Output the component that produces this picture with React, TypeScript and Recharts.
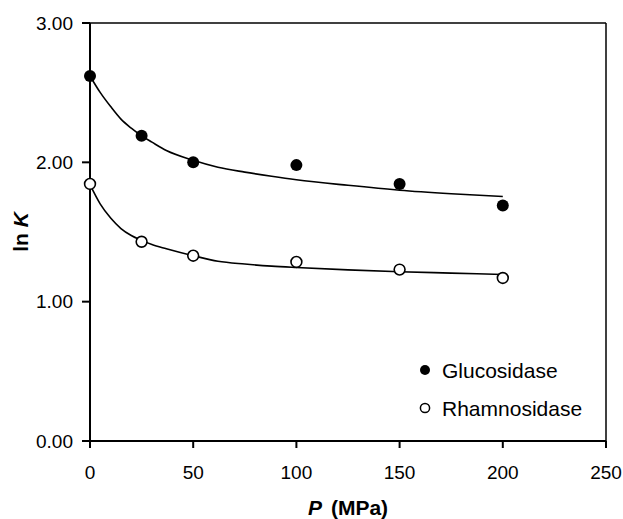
import {
  ComposedChart,
  Line,
  Scatter,
  XAxis,
  YAxis,
  ReferenceLine,
  Label,
} from "recharts";

// measured ln K values at each pressure (MPa)
const pressures = [0, 25, 50, 100, 150, 200];
const glucosidase = [2.62, 2.19, 2.0, 1.98, 1.845, 1.69];
const rhamnosidase = [1.845, 1.43, 1.33, 1.285, 1.23, 1.17];

// fitted curves, sampled along the pressure range
const fitPressures = [0, 5, 10, 15, 20, 25, 30, 37, 50, 62, 75, 88, 100, 125, 150, 175, 200];
const glucosidaseFit = [2.62, 2.5, 2.4, 2.31, 2.245, 2.19, 2.145, 2.085, 2.015, 1.965, 1.93, 1.9, 1.875, 1.835, 1.8, 1.775, 1.755];
const rhamnosidaseFit = [1.84, 1.7, 1.6, 1.525, 1.475, 1.44, 1.41, 1.38, 1.33, 1.29, 1.27, 1.255, 1.245, 1.228, 1.215, 1.205, 1.195];

const xTicks = [0, 50, 100, 150, 200, 250];
const yTicks = [0, 1, 2, 3];
const seriesNames = ["Glucosidase", "Rhamnosidase"];

const FONT = '"Liberation Sans", Arial, sans-serif';

const glucoPoints = pressures.map((p, i) => ({ p, v: glucosidase[i] }));
const rhamnoPoints = pressures.map((p, i) => ({ p, v: rhamnosidase[i] }));
const glucoCurve = fitPressures.map((p, i) => ({ p, v: glucosidaseFit[i] }));
const rhamnoCurve = fitPressures.map((p, i) => ({ p, v: rhamnosidaseFit[i] }));

const FilledDot = (props: any) => <circle cx={props.cx} cy={props.cy} r={6} fill="#000" />;
const OpenDot = (props: any) => (
  <circle cx={props.cx} cy={props.cy} r={5.4} fill="#fff" stroke="#000" strokeWidth={1.6} />
);

// legend box sits inside the plot, lower right
const LegendBox = () => (
  <svg
    width={200}
    height={70}
    style={{ position: "absolute", left: 417, top: 355, fontFamily: FONT }}
  >
    <circle cx={8} cy={15} r={5} fill="#000" />
    <text x={25} y={15} dy="0.36em" fontSize={21} fill="#000">
      {seriesNames[0]}
    </text>
    <circle cx={8} cy={53} r={4.6} fill="#fff" stroke="#000" strokeWidth={1.5} />
    <text x={25} y={53} dy="0.36em" fontSize={21} fill="#000">
      {seriesNames[1]}
    </text>
  </svg>
);

const XTitle = ({ viewBox }: any) => {
  const cx = viewBox.x + viewBox.width / 2;
  return (
    <text x={cx} y={515} textAnchor="middle" fontSize={21} fontWeight="bold" fontFamily={FONT} fill="#000">
      <tspan fontStyle="italic">P</tspan>
      <tspan dx={9}>(MPa)</tspan>
    </text>
  );
};

const YTitle = ({ viewBox }: any) => {
  const cy = viewBox.y + viewBox.height / 2;
  return (
    <text
      x={28}
      y={cy}
      transform={`rotate(-90, 28, ${cy})`}
      textAnchor="middle"
      fontSize={21}
      fontWeight="bold"
      fontFamily={FONT}
      fill="#000"
    >
      ln <tspan fontStyle="italic">K</tspan>
    </text>
  );
};

export default function App() {
  return (
    <div style={{ position: "absolute", left: 0, top: 0, width: 623, height: 519, background: "#fff" }}>
      <ComposedChart width={623} height={519} margin={{ top: 23, right: 17, bottom: 18, left: 0 }}>
        <XAxis
          type="number"
          dataKey="p"
          domain={[0, 250]}
          ticks={xTicks}
          height={60}
          tickSize={7}
          tickMargin={18}
          stroke="#000"
          strokeWidth={2}
          tick={{ fill: "#000", fontSize: 19, fontFamily: FONT }}
          allowDuplicatedCategory={false}
        >
          <Label content={<XTitle />} />
        </XAxis>
        <YAxis
          type="number"
          dataKey="v"
          domain={[0, 3]}
          ticks={yTicks}
          width={90}
          tickSize={8}
          tickMargin={9}
          stroke="#000"
          strokeWidth={2}
          tickFormatter={(v: number) => v.toFixed(2)}
          tick={{ fill: "#000", fontSize: 19, fontFamily: FONT }}
        >
          <Label content={<YTitle />} />
        </YAxis>
        <ReferenceLine y={3} stroke="#000" strokeWidth={1.5} />
        <ReferenceLine x={250} stroke="#000" strokeWidth={1.5} />
        <Line
          data={glucoCurve}
          dataKey="v"
          type="monotone"
          stroke="#000"
          strokeWidth={1.6}
          dot={false}
          activeDot={false}
          isAnimationActive={false}
        />
        <Line
          data={rhamnoCurve}
          dataKey="v"
          type="monotone"
          stroke="#000"
          strokeWidth={1.6}
          dot={false}
          activeDot={false}
          isAnimationActive={false}
        />
        <Scatter name={seriesNames[0]} data={glucoPoints} dataKey="v" shape={<FilledDot />} isAnimationActive={false} />
        <Scatter name={seriesNames[1]} data={rhamnoPoints} dataKey="v" shape={<OpenDot />} isAnimationActive={false} />
      </ComposedChart>
      <LegendBox />
    </div>
  );
}
